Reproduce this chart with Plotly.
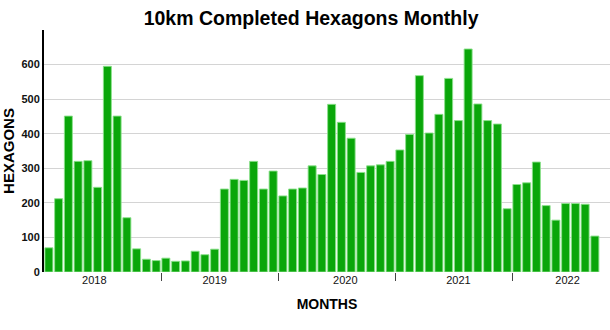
import plotly.graph_objects as go

values = [70, 212, 451, 320, 322, 245, 595, 451, 157, 67, 37, 33,
          40, 31, 32, 60, 50, 66, 240, 268, 265, 320, 240, 292,
          220, 240, 243, 307, 282, 485, 433, 387, 288, 307, 310, 320,
          353, 398, 568, 402, 456, 560, 438, 645, 486, 438, 428, 183,
          253, 258, 318, 192, 150, 198, 198, 196, 104]
months = list(range(len(values)))
year_labels = ["2018", "2019", "2020", "2021", "2022"]
year_label_pos = [4.66, 17.0, 30.4, 42.0, 53.2]
year_boundaries = [11.5, 23.5, 35.5, 47.5]
y_ticks = [0, 100, 200, 300, 400, 500, 600]
x_range = [-0.5, 57.55]

FONT = "Liberation Sans"

fig = go.Figure()
fig.add_trace(go.Bar(
    x=months, y=values,
    marker=dict(color="#0aa60a", line=dict(color="rgba(140,225,140,0.9)", width=1)),
    hoverinfo="y", showlegend=False,
))
fig.add_trace(go.Scatter(x=[0], y=[0], xaxis="x2", mode="markers",
                         marker=dict(opacity=0), showlegend=False, hoverinfo="skip"))

fig.update_layout(
    width=610, height=330,
    margin=dict(l=44, r=0, t=30, b=58),
    paper_bgcolor="white", plot_bgcolor="white",
    bargap=0.18,
    title=dict(text="<b>10km Completed Hexagons Monthly</b>", x=0.51, xanchor="center",
               y=0.945, yanchor="middle",
               font=dict(family=FONT, size=19.5, color="#000")),
    xaxis=dict(range=x_range, tickvals=year_label_pos, ticktext=year_labels,
               ticks="", showgrid=False, zeroline=False, showline=False,
               tickfont=dict(family=FONT, size=11, color="#111"),
               title=dict(text="<b>MONTHS</b>", font=dict(family=FONT, size=14, color="#000"),
                          standoff=14)),
    xaxis2=dict(range=x_range, overlaying="x", side="bottom",
                tickvals=year_boundaries, ticks="outside", ticklen=8, tickwidth=1,
                tickcolor="#444", showticklabels=False, showgrid=False, zeroline=False,
                showline=False),
    yaxis=dict(range=[0, 700], tickvals=y_ticks, showgrid=True, gridcolor="#d4d4d4",
               gridwidth=1, zeroline=False, showline=True, linecolor="#000", linewidth=2,
               ticks="", tickfont=dict(family=FONT, size=11, color="#111", weight="bold"),
               title=dict(text="<b>HEXAGONS</b>", font=dict(family=FONT, size=15, color="#000"),
                          standoff=8)),
)

fig.write_html("out.html")
